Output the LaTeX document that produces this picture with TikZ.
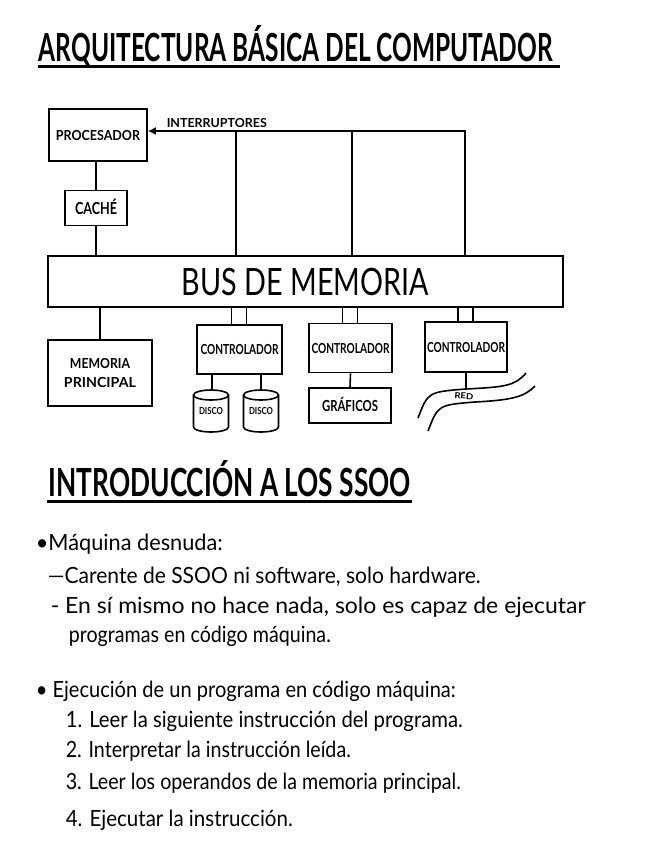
\documentclass[tikz,border=0pt]{standalone}
\usepackage{fontspec}
\setmainfont{Lato}
\usetikzlibrary{arrows.meta}
\newcommand{\capfit}[3]{\resizebox{#1}{#2}{\raisebox{0pt}[\fontcharht\font`A][0pt]{#3}}}
\newcommand{\bodyfit}[2]{\capfit{#1}{16pt}{#2}}
\begin{document}
\begin{tikzpicture}[x=1pt,y=-1pt,line width=1.6pt,
  box/.style={draw,inner sep=0pt,line width=1.6pt,font=\bfseries},
  txt/.style={anchor=base west,inner sep=0pt},
  lbl/.style={inner sep=0pt,font=\bfseries}]
\useasboundingbox (0,0) rectangle (656,848);
% ---- title 1
\node[txt,font=\bfseries] (t1) at (38,62) {\capfit{514pt}{28pt}{ARQUITECTURA BÁSICA DEL COMPUTADOR}};
\draw[line width=3pt] (38,67) -- (560,67);
% ---- boxes
\node[box,minimum width=98pt,minimum height=52pt] (proc) at (98,135) {\capfit{84pt}{10pt}{PROCESADOR}};
\node[box,minimum width=62pt,minimum height=35pt] (cache) at (96,208) {\capfit{42pt}{12pt}{CACHÉ}};
\node[box,minimum width=515pt,minimum height=51pt,font=\normalfont] (bus) at (305.5,281.5) {\capfit{247pt}{27pt}{BUS DE MEMORIA}};
\node[box,minimum width=104pt,minimum height=66pt,align=center] (mem) at (100,373) {\capfit{60pt}{10pt}{MEMORIA}\\[7pt]\capfit{72pt}{10pt}{PRINCIPAL}};
\node[box,minimum width=85pt,minimum height=49pt] (c1) at (239.5,349.5) {\capfit{78pt}{10pt}{CONTROLADOR}};
\node[box,minimum width=83pt,minimum height=49pt] (c2) at (350.5,348) {\capfit{78pt}{10pt}{CONTROLADOR}};
\node[box,minimum width=82pt,minimum height=50pt] (c3) at (466,347) {\capfit{78pt}{10pt}{CONTROLADOR}};
\node[box,minimum width=82pt,minimum height=35pt] (graf) at (350,405.5) {\capfit{56pt}{11pt}{GRÁFICOS}};
% discs
\draw (211,395) ellipse [x radius=17.5pt,y radius=5pt];
\draw (193.5,395) -- (193.5,427) arc[start angle=180,end angle=360,x radius=17.5pt,y radius=5pt] -- (228.5,395);
\draw (261,395) ellipse [x radius=17.5pt,y radius=5pt];
\draw (243.5,395) -- (243.5,427) arc[start angle=180,end angle=360,x radius=17.5pt,y radius=5pt] -- (278.5,395);
\node[lbl,minimum width=35pt,minimum height=42pt] (d1) at (211,411) {\capfit{24pt}{7pt}{DISCO}};
\node[lbl,minimum width=35pt,minimum height=42pt] (d2) at (261,411) {\capfit{24pt}{7pt}{DISCO}};
\coordinate (d1t) at (212,390);
\coordinate (d2t) at (261,390);
% network
\draw (418,418) .. controls (428,392) .. (466,389) .. controls (505,387) and (515,386) .. (526,373);
\draw (428,431) .. controls (438,405) .. (475,402) .. controls (515,400) and (525,396) .. (535,386);
\node[lbl,rotate=-4] (red) at (464,396) {\capfit{19pt}{6pt}{RED}};
% ---- connectors
\draw (cache.north) -- (cache.north |- proc.south);
\draw (cache.south) -- (cache.south |- bus.north);
\draw (mem.north) -- (mem.north |- bus.south);
\coordinate (i1) at (236,131);
\coordinate (i2) at (352,131);
\coordinate (i3) at (465,131);
\draw[-{Latex[length=8pt,width=8pt]}] (i3 |- bus.north) -- (i3) -- (proc.east |- i3);
\draw (i1) -- (i1 |- bus.north);
\draw (i2) -- (i2 |- bus.north);
\node[txt,font=\bfseries] (intr) at (166,128) {\capfit{100pt}{9pt}{INTERRUPTORES}};
\foreach \c in {c1,c2,c3}{
  \draw ([xshift=-8pt]\c.north) -- ([xshift=-8pt]\c.north |- bus.south);
  \draw ([xshift=7pt]\c.north) -- ([xshift=7pt]\c.north |- bus.south);
}
\draw (d1t |- c1.south) -- (d1t);
\draw (d2t |- c1.south) -- (d2t);
\draw (c2.south) -- (graf.north);
\coordinate (rt) at (466,389);
\draw (c3.south) -- (rt);
% ---- title 2
\node[txt,font=\bfseries] (t2) at (48,496) {\capfit{362pt}{28pt}{INTRODUCCIÓN A LOS SSOO}};
\draw[line width=3pt] (47,501) -- (412,501);
% ---- body
\node[txt] (l1) at (35,550) {\bodyfit{187pt}{•Máquina desnuda:}};
\node[txt] (l2) at (47,583) {\bodyfit{433pt}{—Carente de SSOO ni software, solo hardware.}};
\node[txt] (l3) at (50,613) {\bodyfit{535pt}{- En sí mismo no hace nada, solo es capaz de ejecutar}};
\node[txt] (l4) at (68,642) {\bodyfit{262pt}{programas en código máquina.}};
\node[txt] (l5) at (35,697) {\bodyfit{420pt}{• Ejecución de un programa en código máquina:}};
\node[txt] (l6) at (65,727) {\bodyfit{397pt}{1. Leer la siguiente instrucción del programa.}};
\node[txt] (l7) at (65,757) {\bodyfit{285pt}{2. Interpretar la instrucción leída.}};
\node[txt] (l8) at (65,789) {\bodyfit{395pt}{3. Leer los operandos de la memoria principal.}};
\node[txt] (l9) at (65,826) {\bodyfit{227pt}{4. Ejecutar la instrucción.}};
\end{tikzpicture}
\end{document}
